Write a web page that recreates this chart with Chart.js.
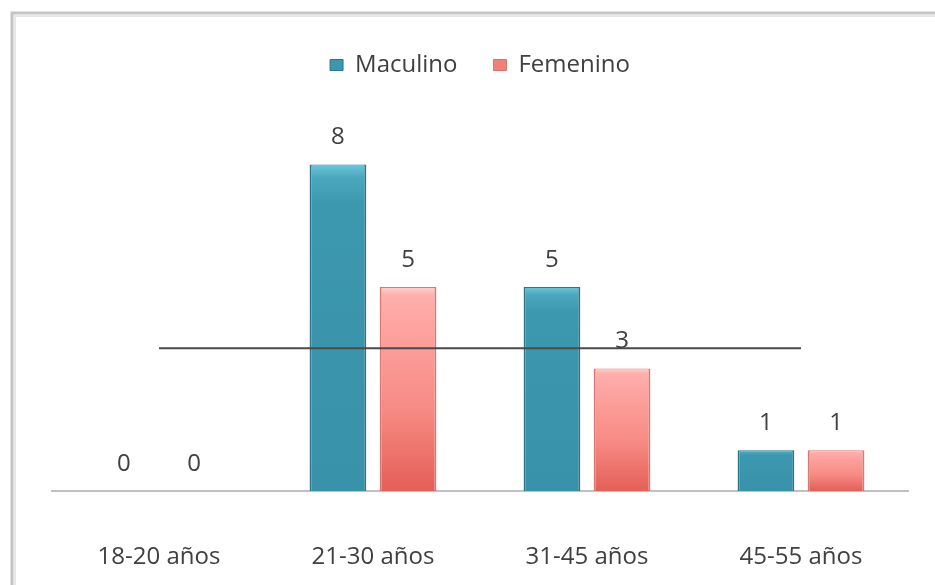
<!DOCTYPE html>
<html>
<head>
<meta charset="utf-8">
<script src="https://cdn.jsdelivr.net/npm/chart.js@4/dist/chart.umd.min.js"></script>
<style>
  html, body { margin: 0; padding: 0; background: #ffffff; }
  #wrap { width: 935px; height: 585px; position: relative; }
</style>
</head>
<body>
<div id="wrap"><canvas id="c" width="935" height="585"></canvas></div>
<script>
const categories = ["18-20 años", "21-30 años", "31-45 años", "45-55 años"];
const masculino = [0, 8, 5, 1];
const femenino = [0, 5, 3, 1];
const referenceLine = [3.5, 3.5, 3.5, 3.5];
const seriesNames = ["Maculino", "Femenino"];

const FONT = "'Open Sans', 'DejaVu Sans', sans-serif";
const TEXT = "#404040";

function barGradient(ctx, stops, fallback) {
  const chart = ctx.chart;
  const y = chart.scales && chart.scales.y;
  if (!chart.chartArea || !y || ctx.raw === undefined) return fallback;
  const top = y.getPixelForValue(ctx.raw);
  const bottom = y.getPixelForValue(0);
  if (!isFinite(top) || !isFinite(bottom) || bottom - top < 1) return fallback;
  const g = chart.ctx.createLinearGradient(0, top, 0, bottom);
  stops.forEach(s => g.addColorStop(s[0], s[1]));
  return g;
}
function blueFill(ctx) {
  return barGradient(ctx, [[0, "#6cc6da"], [0.04, "#4aa8be"], [0.12, "#3c98af"], [1, "#3892a9"]], "#3c98af");
}
function pinkFill(ctx) {
  return barGradient(ctx, [[0, "#ffd0ce"], [0.04, "#ffb0ad"], [0.15, "#fea6a3"], [0.6, "#f78a84"], [1, "#e45f57"]], "#f48c86");
}

const framePlugin = {
  id: "frame",
  beforeDraw(chart) {
    const c = chart.ctx;
    c.save();
    c.strokeStyle = "#c4c4c4";
    c.lineWidth = 3;
    c.beginPath();
    c.moveTo(12, 585);
    c.lineTo(12, 13);
    c.lineTo(935, 13);
    c.stroke();
    c.strokeStyle = "#e8e8e8";
    c.lineWidth = 2;
    c.beginPath();
    c.moveTo(15, 585);
    c.lineTo(15, 16);
    c.lineTo(935, 16);
    c.stroke();
    c.restore();
  }
};

const valueLabels = {
  id: "valueLabels",
  afterDatasetsDraw(chart) {
    const c = chart.ctx;
    chart.data.datasets.forEach((ds, di) => {
      if (ds.type === "line") return;
      const meta = chart.getDatasetMeta(di);
      meta.data.forEach((el, i) => {
        c.save();
        c.fillStyle = TEXT;
        c.font = "24px " + FONT;
        c.textAlign = "center";
        c.textBaseline = "middle";
        c.fillText(String(ds.data[i]), el.x, el.y - 27);
        c.restore();
      });
    });
  }
};

new Chart(document.getElementById("c"), {
  data: {
    labels: categories,
    datasets: [
      {
        type: "line",
        label: "ref",
        data: referenceLine,
        borderColor: "#4a4a4a",
        borderWidth: 2,
        pointRadius: 0,
        fill: false,
        order: 0
      },
      {
        type: "bar",
        label: seriesNames[0],
        data: masculino,
        backgroundColor: blueFill,
        borderColor: "#2b7689",
        borderWidth: { left: 2, right: 2, top: 1, bottom: 0 },
        barPercentage: 0.81,
        categoryPercentage: 0.655,
        order: 1
      },
      {
        type: "bar",
        label: seriesNames[1],
        data: femenino,
        backgroundColor: pinkFill,
        borderColor: "#d77a74",
        borderWidth: { left: 2, right: 2, top: 1, bottom: 0 },
        barPercentage: 0.81,
        categoryPercentage: 0.655,
        order: 1
      }
    ]
  },
  options: {
    responsive: false,
    animation: false,
    devicePixelRatio: 1,
    layout: { padding: { left: 52, right: 27, top: 17, bottom: 0 } },
    plugins: {
      tooltip: { enabled: false },
      legend: {
        display: true,
        position: "top",
        align: "center",
        labels: {
          color: TEXT,
          font: { family: FONT, size: 24 },
          boxWidth: 13,
          boxHeight: 11,
          padding: 36,
          generateLabels(chart) {
            const cols = [["#3c98af", "#2b7689"], ["#f08078", "#d8726c"]];
            return [0, 1].map(k => ({
              text: seriesNames[k],
              fillStyle: cols[k][0],
              strokeStyle: cols[k][1],
              lineWidth: 1,
              fontColor: TEXT,
              hidden: false,
              datasetIndex: k + 1
            }));
          }
        }
      }
    },
    scales: {
      x: {
        offset: true,
        grid: { display: false, drawTicks: false },
        border: { display: true, color: "#c0c0c0", width: 2 },
        ticks: { color: TEXT, font: { family: FONT, size: 24 }, padding: 52 },
        afterFit(scale) { scale.height = 94; }
      },
      y: {
        display: false,
        min: 0,
        max: 9.9
      }
    }
  },
  plugins: [framePlugin, valueLabels]
});
</script>
</body>
</html>
